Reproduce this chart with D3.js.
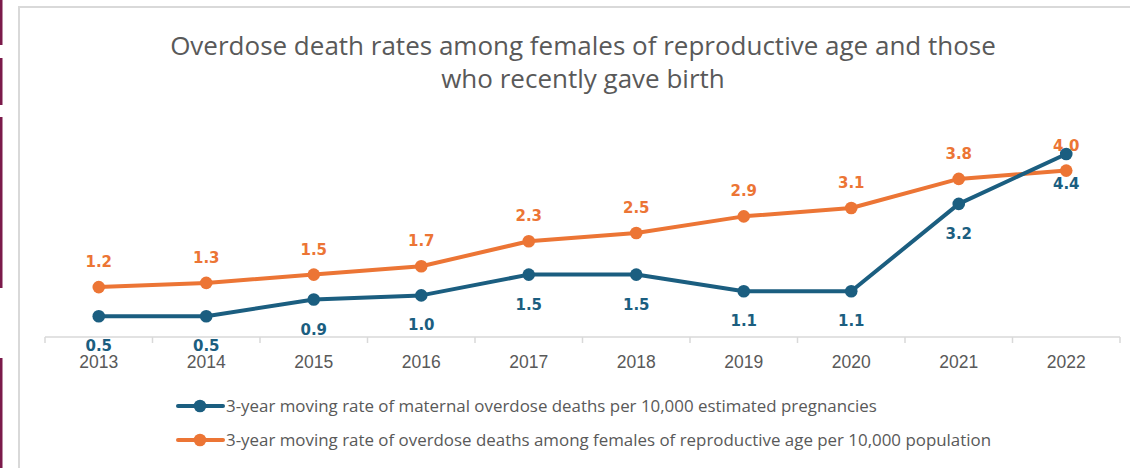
<!DOCTYPE html>
<html>
<head>
<meta charset="utf-8">
<script src="https://cdn.jsdelivr.net/npm/d3@7"></script>
<style>
  html, body { margin: 0; padding: 0; background: #fff; }
  svg { display: block; }
</style>
</head>
<body>
<svg id="chart" width="1130" height="468"></svg>
<script>
// Years on the x axis
const years = ["2013", "2014", "2015", "2016", "2017", "2018", "2019", "2020", "2021", "2022"];
// Maternal overdose deaths per 10,000 estimated pregnancies (3-year moving rate)
const maternalRate = [0.5, 0.5, 0.9, 1.0, 1.5, 1.5, 1.1, 1.1, 3.2, 4.4];
// Overdose deaths among females of reproductive age per 10,000 population (3-year moving rate)
const femaleRate = [1.2, 1.3, 1.5, 1.7, 2.3, 2.5, 2.9, 3.1, 3.8, 4.0];
const seriesNames = [
  "3-year moving rate of maternal overdose deaths per 10,000 estimated pregnancies",
  "3-year moving rate of overdose deaths among females of reproductive age per 10,000 population"
];
const titleLines = [
  "Overdose death rates among females of reproductive age and those",
  "who recently gave birth"
];

const blue = "#1b5e80";
const orange = "#ec7535";
const grey = "#595959";

const svg = d3.select("#chart");

// slide edge accent on the far left
const accentSegments = [[0, 45], [58, 105], [117, 288], [358, 468]];
svg.selectAll("rect.accent").data(accentSegments).join("rect")
  .attr("class", "accent")
  .attr("x", 0).attr("width", 2.5)
  .attr("y", d => d[0]).attr("height", d => d[1] - d[0])
  .attr("fill", "#7b1a4b");

// chart frame
svg.append("path")
  .attr("d", "M19,480 L19,7 L1140,7")
  .attr("fill", "none")
  .attr("stroke", "#d9d9d9")
  .attr("stroke-width", 2);

// title
const title = svg.append("text")
  .attr("text-anchor", "middle")
  .attr("fill", grey)
  .style("font-family", "'Open Sans', sans-serif")
  .style("font-size", "26px");
titleLines.forEach((t, i) => {
  title.append("tspan").attr("x", 583).attr("y", 55 + i * 33).text(t);
});

// scales
const x = d3.scaleBand().domain(years).range([45, 1120]);
const y = d3.scaleLinear().domain([0, 5]).range([337, 129]);
const cx = d => x(d) + x.bandwidth() / 2;

// x axis with ticks at category boundaries
const axisG = svg.append("g");
axisG.append("line")
  .attr("x1", 45).attr("x2", 1120)
  .attr("y1", y(0)).attr("y2", y(0))
  .attr("stroke", "#d9d9d9").attr("stroke-width", 1.5);
const boundaries = years.map(d => x(d)).concat([x.range()[1]]);
axisG.selectAll("line.tick").data(boundaries).join("line")
  .attr("class", "tick")
  .attr("x1", d => d).attr("x2", d => d)
  .attr("y1", y(0)).attr("y2", y(0) + 6)
  .attr("stroke", "#d9d9d9").attr("stroke-width", 1.5);
axisG.selectAll("text").data(years).join("text")
  .attr("x", d => cx(d))
  .attr("y", 368)
  .attr("text-anchor", "middle")
  .attr("fill", grey)
  .style("font-family", "'Liberation Sans', Arial, sans-serif")
  .style("font-size", "17.5px")
  .text(d => d);

const series = [
  { values: femaleRate, color: orange, labelDy: -20 },
  { values: maternalRate, color: blue, labelDy: 35 }
];

const line = d3.line().x(d => cx(d.year)).y(d => y(d.value));

series.forEach(s => {
  const pts = years.map((yr, i) => ({ year: yr, value: s.values[i] }));
  const g = svg.append("g");
  g.append("path")
    .datum(pts)
    .attr("d", line)
    .attr("fill", "none")
    .attr("stroke", s.color)
    .attr("stroke-width", 4)
    .attr("stroke-linejoin", "round");
  g.selectAll("circle").data(pts).join("circle")
    .attr("cx", d => cx(d.year))
    .attr("cy", d => y(d.value))
    .attr("r", 6.3)
    .attr("fill", s.color);
  g.selectAll("text").data(pts).join("text")
    .attr("x", d => cx(d.year))
    .attr("y", d => y(d.value) + s.labelDy)
    .attr("text-anchor", "middle")
    .attr("fill", s.color)
    .style("font-family", "'DejaVu Sans', sans-serif")
    .style("font-size", "15px")
    .style("font-weight", "bold")
    .text(d => d3.format(".1f")(d.value));
});

// legend
const legend = svg.append("g");
[blue, orange].forEach((c, i) => {
  const ly = 406 + i * 34;
  legend.append("line")
    .attr("x1", 178).attr("x2", 223)
    .attr("y1", ly).attr("y2", ly)
    .attr("stroke", c).attr("stroke-width", 4).attr("stroke-linecap", "round");
  legend.append("circle")
    .attr("cx", 200).attr("cy", ly).attr("r", 6.3).attr("fill", c);
  legend.append("text")
    .attr("x", 226).attr("y", ly + 6)
    .attr("fill", grey)
    .style("font-family", "'Open Sans', sans-serif")
    .style("font-size", "16.9px")
    .text(seriesNames[i]);
});
</script>
</body>
</html>
